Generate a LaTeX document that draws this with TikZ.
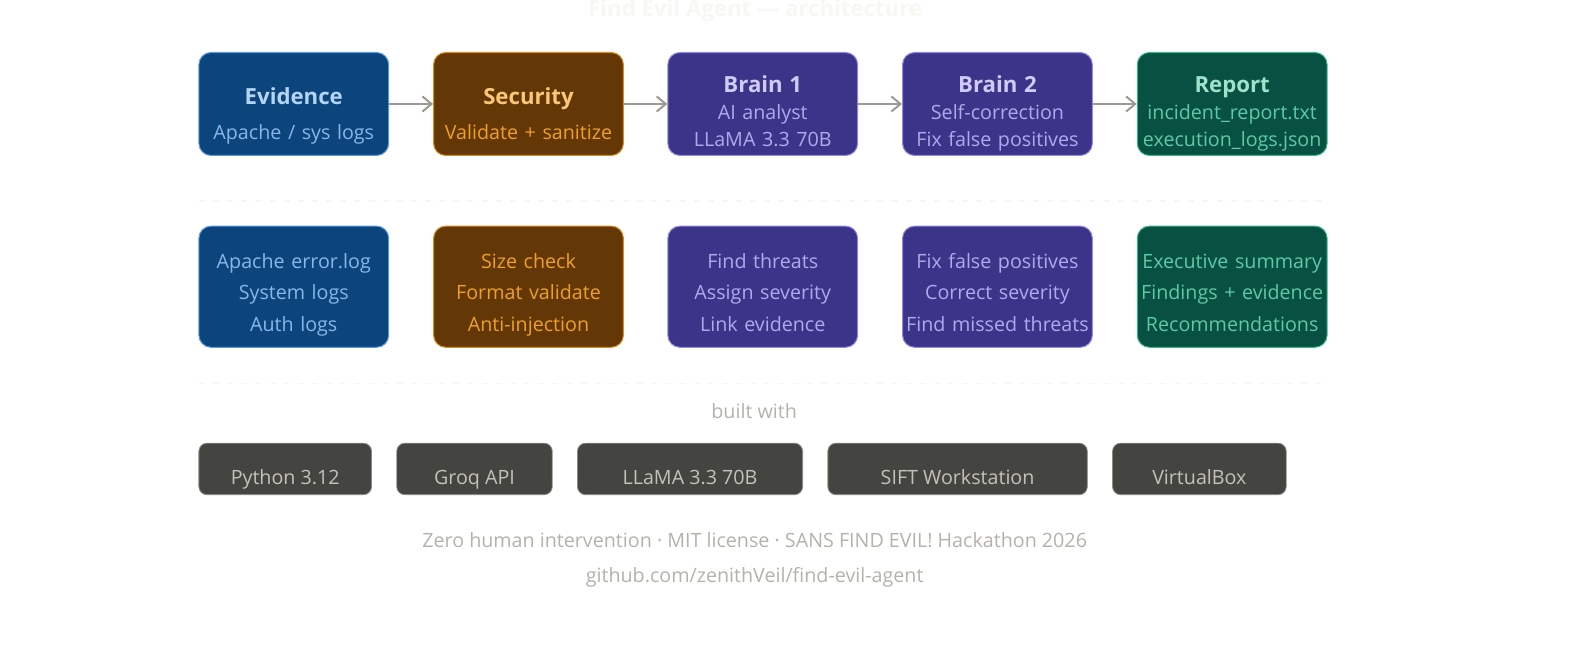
\documentclass[tikz,border=0pt]{standalone}
\usepackage{fontspec}
\setmainfont{Open Sans}
\usepackage{xcolor}
\usetikzlibrary{positioning, arrows.meta}

\definecolor{evfill}{HTML}{0C447C}
\definecolor{evline}{HTML}{5A9BE0}
\definecolor{evtitle}{HTML}{B5D4F4}
\definecolor{evtext}{HTML}{85B7EB}
\definecolor{secfill}{HTML}{633806}
\definecolor{secline}{HTML}{D98B1E}
\definecolor{sectitle}{HTML}{FAC775}
\definecolor{sectext}{HTML}{EF9F27}
\definecolor{brainfill}{HTML}{3C3489}
\definecolor{brainline}{HTML}{8F88E0}
\definecolor{braintitle}{HTML}{CECBF6}
\definecolor{braintext}{HTML}{AFA9EC}
\definecolor{repfill}{HTML}{085041}
\definecolor{repline}{HTML}{3DB48A}
\definecolor{reptitle}{HTML}{9FE1CB}
\definecolor{reptext}{HTML}{5DCAA5}
\definecolor{techfill}{HTML}{444441}
\definecolor{techline}{HTML}{8C8A82}
\definecolor{techtext}{HTML}{C4C2B8}
\definecolor{foottext}{HTML}{B4B2A9}
\definecolor{arrowgray}{HTML}{9C9A92}
\definecolor{headtext}{HTML}{F8F7F1}
\definecolor{sepline}{HTML}{F5F5F2}

\newcommand{\stagetitle}[2]{\textcolor{#1}{\fontsize{22}{26}\selectfont\bfseries #2}}

\begin{document}
\begin{tikzpicture}[
        x=1pt, y=-1pt,
        stagebox/.style={draw, rectangle, rounded corners=12pt, line width=1pt, inner sep=0pt,
            text width=188pt, minimum height=102pt, align=center, font=\fontsize{19.5}{26.5}\selectfont},
        twoline/.style={text height=22pt, text depth=20pt},
        threeline/.style={text height=22pt, text depth=44pt},
        detailbox/.style={stagebox, minimum height=120pt, font=\fontsize{19.5}{31}\selectfont,
            text height=20pt, text depth=56pt},
        evbox/.style={fill=evfill, draw=evline, text=evtext},
        secbox/.style={fill=secfill, draw=secline, text=sectext},
        brainbox/.style={fill=brainfill, draw=brainline, text=braintext},
        repbox/.style={fill=repfill, draw=repline, text=reptext},
        techbox/.style={draw=techline, fill=techfill, text=techtext, rectangle, rounded corners=8pt,
            line width=0.8pt, inner sep=0pt, outer sep=0pt, minimum height=51pt, font=\fontsize{19.5}{24}\selectfont,
            text height=31pt, text depth=1pt},
        arrow/.style={-{Straight Barb[length=9pt, width=15pt, line width=2pt]}, draw=arrowgray, line width=2pt},
        footnote/.style={text=foottext, font=\fontsize{19.5}{24}\selectfont, anchor=base},
        sepdash/.style={draw=sepline, line width=1.5pt, dash pattern=on 6pt off 8pt}
    ]
    \useasboundingbox (0,0) rectangle (1568,658);

    % ============ HEADER ============
    \node[anchor=base, text=headtext, font=\fontsize{22}{26}\selectfont\bfseries] (heading) at (748,16) {Find Evil Agent — architecture};

    % ============ PIPELINE ============
    \node[stagebox, twoline, evbox] (evidence) at (291,103) {\stagetitle{evtitle}{Evidence}\\[7.5pt]Apache / sys logs};
    \node[stagebox, twoline, secbox] (security) at (523.5,103) {\stagetitle{sectitle}{Security}\\[7.5pt]Validate + sanitize};
    \node[stagebox, threeline, brainbox] (brainone) at (755.5,103) {\stagetitle{braintitle}{Brain 1}\\AI analyst\\LLaMA 3.3 70B};
    \node[stagebox, threeline, brainbox] (braintwo) at (988,103) {\stagetitle{braintitle}{Brain 2}\\Self-correction\\Fix false positives};
    \node[stagebox, threeline, repbox] (report) at (1220.5,103) {\stagetitle{reptitle}{Report}\\incident\_report.txt\\execution\_logs.json};

    \draw[arrow] (evidence) -- (security);
    \draw[arrow] (security) -- (brainone);
    \draw[arrow] (brainone) -- (braintwo);
    \draw[arrow] (braintwo) -- (report);

    \draw[sepdash] (197,199) -- (1315,199);

    % ============ DETAILS ============
    \node[detailbox, evbox] (evdetail) at (291,284) {Apache error.log\\System logs\\Auth logs};
    \node[detailbox, secbox] (secdetail) at (523.5,284) {Size check\\Format validate\\Anti-injection};
    \node[detailbox, brainbox] (onedetail) at (755.5,284) {Find threats\\Assign severity\\Link evidence};
    \node[detailbox, brainbox] (twodetail) at (988,284) {Fix false positives\\Correct severity\\Find missed threats};
    \node[detailbox, repbox] (repdetail) at (1220.5,284) {Executive summary\\Findings + evidence\\Recommendations};

    \draw[sepdash] (197,380) -- (1315,380);

    % ============ BUILT WITH ============
    \node[footnote] (builtwith) at (747,415) {built with};

    \node[techbox, minimum width=171pt] (python) at (282.5,464.5) {Python 3.12};
    \node[techbox, minimum width=154pt, right=25pt of python] (groq) {Groq API};
    \node[techbox, minimum width=223pt, right=25pt of groq] (llama) {LLaMA 3.3 70B};
    \node[techbox, minimum width=257pt, right=25pt of llama] (sift) {SIFT Workstation};
    \node[techbox, minimum width=172pt, right=25pt of sift] (vbox) {VirtualBox};

    % ============ FOOTER ============
    \node[footnote] (license) at (747.5,542.5) {Zero human intervention · MIT license · SANS FIND EVIL! Hackathon 2026};
    \node[footnote] (repo) at (747.5,576.5) {github.com/zenithVeil/find-evil-agent};

\end{tikzpicture}
\end{document}
